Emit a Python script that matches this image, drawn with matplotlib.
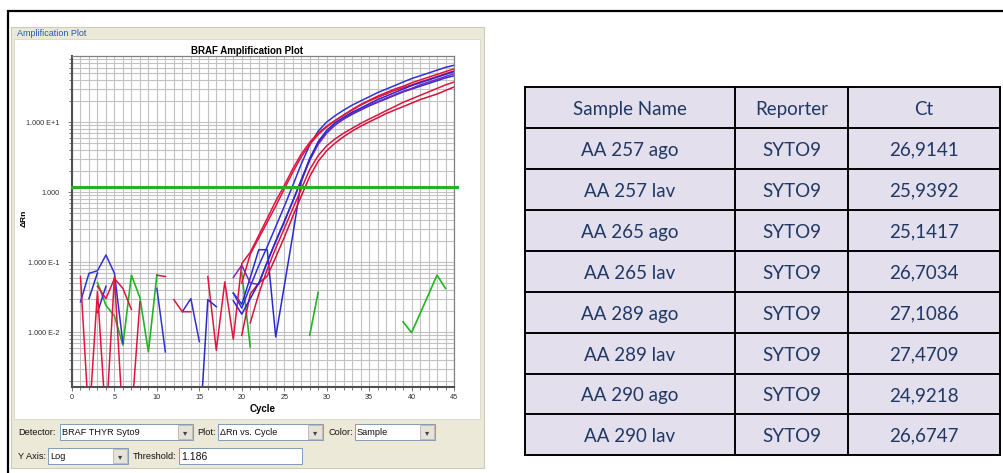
import numpy as np
import matplotlib.pyplot as plt
from matplotlib.patches import Rectangle
from matplotlib.ticker import MultipleLocator, LogLocator, NullFormatter, FuncFormatter

nan = np.nan
W, H = 1004, 473

# results table
sample_names = ["AA 257 ago", "AA 257 lav", "AA 265 ago", "AA 265 lav",
                "AA 289 ago", "AA 289 lav", "AA 290 ago", "AA 290 lav"]
reporters = ["SYTO9"] * 8
ct_values = [26.9141, 25.9392, 25.1417, 26.7034, 27.1086, 27.4709, 24.9218, 26.6747]
threshold = 1.186

# delta Rn per cycle (1..45), nan where the baseline-corrected value is negative
cycles = np.arange(1, 46)

drn_257_ago = [nan, nan, .019, .045, nan, nan, nan, nan, nan, nan,
               nan, nan, nan, nan, nan, nan, nan, nan, .036, .025,
               .06, .15, .15, .0085, .045, .24, 1.38, 3.02, 5.01, 7.08,
               9.12, 11.0, 12.9, 14.8, 17.0, 19.1, 21.4, 24.0, 26.9, 29.5,
               32.4, 35.5, 38.9, 42.7, 45.7]
drn_257_lav = [.027, .069, .075, .126, .069, .0069, nan, nan, nan, .042,
               .0052, nan, .0195, .030, .0073, nan, nan, nan, .036, .022,
               .045, .089, .166, .32, .62, 1.23, 2.51, 4.68, 7.41, 10.0,
               12.3, 14.8, 17.4, 20.0, 22.9, 26.3, 29.5, 33.1, 37.2, 41.7,
               45.7, 50.1, 55.0, 60.3, 64.6]
drn_265_ago = [nan, nan, .045, .030, .058, .042, .021, nan, nan, .065,
               .062, nan, nan, nan, nan, nan, nan, nan, nan, .05,
               .13, .22, .37, .63, 1.10, 1.91, 3.16, 4.79, 6.61, 8.51,
               10.5, 12.6, 15.1, 17.8, 20.4, 23.4, 26.3, 29.5, 32.4, 36.3,
               39.8, 43.7, 47.9, 52.5, 57.5]
drn_265_lav = [nan, nan, nan, nan, nan, nan, nan, nan, nan, nan,
               nan, nan, nan, nan, nan, nan, nan, nan, .06, .09,
               .05, .048, .10, .195, .37, .733, 1.46, 2.82, 4.79, 6.92,
               9.12, 11.2, 13.2, 15.1, 17.4, 19.5, 21.9, 24.5, 27.5, 30.2,
               33.9, 37.2, 40.7, 44.7, 49.0]
drn_289_ago = [nan, nan, nan, nan, nan, nan, .0006, .027, nan, nan,
               nan, nan, nan, nan, nan, nan, nan, nan, nan, nan,
               .0135, .035, .079, .158, .30, .575, 1.10, 2.09, 3.31, 4.57,
               5.75, 6.92, 8.13, 9.55, 11.0, 12.6, 14.5, 16.6, 19.1, 21.4,
               24.0, 26.9, 30.2, 33.9, 37.2]
drn_289_lav = [nan, nan, nan, nan, nan, nan, nan, nan, nan, nan,
               nan, nan, nan, nan, nan, nan, nan, nan, nan, .009,
               .035, .05, .063, .117, .224, .447, .871, 1.66, 2.75, 3.89,
               5.01, 6.17, 7.41, 8.71, 10.0, 11.5, 13.2, 14.8, 16.6, 18.6,
               20.9, 22.9, 25.1, 28.2, 31.6]
drn_290_ago = [.062, .0005, .038, .0005, .062, .0005, nan, nan, nan, nan,
               nan, .029, .0195, .0195, nan, .062, .0055, .052, .0079, .095,
               .138, .24, .42, .74, 1.23, 2.14, 3.47, 5.13, 6.92, 8.71,
               10.5, 12.6, 14.8, 17.4, 20.0, 22.4, 25.1, 28.2, 30.9, 33.9,
               37.2, 40.7, 44.7, 49.0, 53.7]
drn_290_lav = [nan, .030, .070, nan, nan, nan, nan, nan, nan, nan,
               nan, nan, nan, nan, .0003, .029, .023, nan, .028, .018,
               .03, .05, .10, .20, .38, .74, 1.48, 2.95, 5.25, 7.59,
               9.77, 11.7, 13.8, 15.8, 18.2, 20.9, 23.4, 26.3, 29.5, 33.1,
               36.3, 39.8, 43.7, 47.9, 52.5]
drn_ntc = [nan, nan, .051, .024, .017, .0065, .065, .031, .0052, .065,
           nan, nan, nan, nan, nan, nan, nan, nan, nan, .07,
           .0061, nan, nan, nan, nan, nan, nan, .009, .037, nan,
           nan, nan, nan, nan, nan, nan, nan, nan, .014, .0098,
           .0183, .0344, .065, .042, nan]

sample_curves = [drn_257_ago, drn_257_lav, drn_265_ago, drn_265_lav,
                 drn_289_ago, drn_289_lav, drn_290_ago, drn_290_lav]
sample_colors = ["#2A2AD2", "#3030D8", "#DC1440", "#7A28B8",
                 "#DC1440", "#D81038", "#E0143C", "#2828CC"]

ui_font = "Liberation Sans"

fig = plt.figure(figsize=(W / 100, H / 100), dpi=100)

# background layer in pixel coordinates
bg = fig.add_axes([0, 0, 1, 1])
bg.set_xlim(0, W)
bg.set_ylim(H, 0)
bg.axis("off")


def box(x0, y0, x1, y1, **kw):
    bg.add_patch(Rectangle((x0, y0), x1 - x0, y1 - y0, **kw))


def combo(x0, x1, y0, y1, text, button=True, size=6.6):
    box(x0, y0, x1, y1, fc="white", ec="#7F9DB9", lw=0.7)
    bg.text(x0 + 2, (y0 + y1) / 2 + 0.5, text, fontsize=size, family=ui_font,
            va="center", ha="left", color="#101010")
    if button:
        box(x1 - 15, y0 + 1, x1 - 1, y1 - 1, fc="#E4E2DA", ec="#B8B4A8", lw=0.6)
        bg.text(x1 - 8, (y0 + y1) / 2 + 0.5, "\u25BE", fontsize=6, ha="center",
                va="center", color="#404040")


def label(x, y, text):
    bg.text(x, y, text, fontsize=6.6, family=ui_font, va="center", ha="left",
            color="#101010")


# outer frame
bg.plot([8, 8, W], [H, 11, 11], color="black", lw=1.6, solid_joinstyle="miter")

# amplification plot window
box(11, 27, 484, 468, fc="#ECE9D8", ec="#CFCBBC", lw=0.8)
box(14, 39, 480, 419, fc="white", ec="#D8D4C8", lw=0.6)
bg.text(17, 33.5, "Amplification Plot", fontsize=6.5, family=ui_font,
        color="#2458B0", va="center", ha="left")
bg.text(247, 50.5, "BRAF Amplification Plot", fontsize=7, fontweight="bold",
        family=ui_font, ha="center", va="center", color="black")

label(18, 432, "Detector:")
combo(60, 193, 424, 440, "BRAF THYR Syto9")
label(197, 432, "Plot:")
combo(218, 323, 424, 440, "\u0394Rn vs. Cycle")
label(329, 432, "Color:")
combo(355, 435, 424, 440, "Sample")
label(18, 456, "Y Axis:")
combo(48, 128, 448, 464, "Log")
label(133, 456, "Threshold:")
combo(179, 302, 448, 464, f"{threshold:.3f}", button=False, size=7.5)

# amplification plot
ax = fig.add_axes([72 / W, 1 - 387 / H, 382 / W, 331 / H])
ax.set_zorder(2)
ax.set_yscale("log")
ax.set_xlim(0, 45)
ax.set_ylim(0.00164, 87.7)
ax.xaxis.set_major_locator(MultipleLocator(5))
ax.xaxis.set_minor_locator(MultipleLocator(1))
ax.yaxis.set_major_locator(LogLocator(base=10))
ax.yaxis.set_minor_locator(LogLocator(base=10, subs=range(2, 10)))
ax.yaxis.set_minor_formatter(NullFormatter())


def sds_fmt(v, pos):
    e = int(round(np.log10(v)))
    if e == 0:
        return "1.000"
    return f"1.000 E{e:+d}"


ax.yaxis.set_major_formatter(FuncFormatter(sds_fmt))
ax.grid(which="both", color="#C2C2C2", lw=0.8)
ax.set_axisbelow(True)
ax.tick_params(which="both", direction="out", color="#606060", labelsize=5.2,
               labelcolor="#303030", width=0.6)
ax.tick_params(which="major", length=3, pad=2)
ax.tick_params(which="minor", length=2)
ax.tick_params(axis="y", which="major", pad=6)
for lbl in ax.get_xticklabels() + ax.get_yticklabels():
    lbl.set_family(ui_font)
for side in ("left", "bottom"):
    ax.spines[side].set_color("#505050")
    ax.spines[side].set_linewidth(1.5)
for side in ("top", "right"):
    ax.spines[side].set_color("#808080")
    ax.spines[side].set_linewidth(0.9)

ax.plot(cycles, drn_ntc, color="#22B422", lw=1.2)
for vals, col in zip(sample_curves, sample_colors):
    ax.plot(cycles, vals, color=col, lw=1.1)

ax.axhline(threshold, xmin=0, xmax=1.008, color="#22B422", lw=2.2,
           clip_on=False, zorder=4)

ax.set_xlabel("Cycle", fontsize=7, fontweight="bold", family=ui_font, labelpad=2)
ax.set_ylabel("\u0394Rn", fontsize=6, fontweight="bold", family=ui_font)
ax.yaxis.set_label_coords((28 - 72) / 382, (387 - 218) / 331)

# Ct results table
col_edges = [525, 735, 848, 1000]
row_edges = [87, 128, 169, 210, 251, 292, 333, 374, 414, 455]
header = ["Sample Name", "Reporter", "Ct"]
rows = [[n, r, f"{c:.4f}".replace(".", ",")]
        for n, r, c in zip(sample_names, reporters, ct_values)]

box(col_edges[0], row_edges[0], col_edges[-1], row_edges[-1], fc="#E4DFEC",
    ec="none")
for y in row_edges:
    bg.plot([col_edges[0], col_edges[-1]], [y, y], color="black", lw=1.4,
            solid_capstyle="projecting")
for x in col_edges:
    bg.plot([x, x], [row_edges[0], row_edges[-1]], color="black", lw=1.4,
            solid_capstyle="projecting")

for i, cells in enumerate([header] + rows):
    yc = (row_edges[i] + row_edges[i + 1]) / 2 + 1.5
    for j, txt in enumerate(cells):
        xc = (col_edges[j] + col_edges[j + 1]) / 2
        bg.text(xc, yc, txt, fontsize=13.5, family="Lato", ha="center",
                va="center", color="#1F3864")

fig.savefig("out.png", dpi=100)
